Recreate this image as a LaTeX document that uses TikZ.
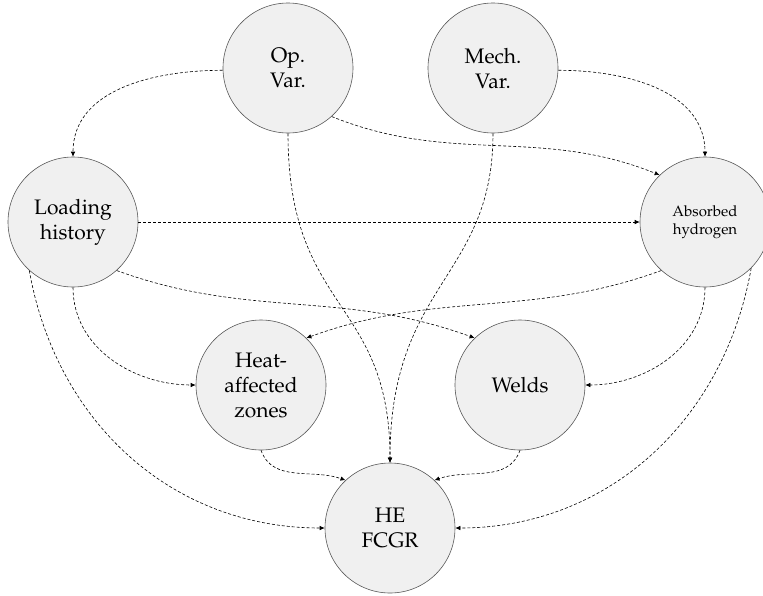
\documentclass[tikz,border=0pt]{standalone}
\usepackage[T1]{fontenc}
\renewcommand{\rmdefault}{ppl}
\usetikzlibrary{arrows.meta}
\begin{document}
\begin{tikzpicture}[x=1pt,y=1pt,
  factor/.style={circle,draw=black!65,line width=0.6pt,fill=black!6,
    minimum size=130pt,inner sep=0pt,align=center,text=black,
    font=\fontsize{21}{25}\selectfont},
  smalltext/.style={font=\fontsize{15}{18}\selectfont},
  link/.style={draw=black,line width=0.6pt,dash pattern=on 3pt off 2pt,
    -{Latex[length=5pt,width=4.5pt]}},
]
\useasboundingbox (0,0) rectangle (763,-595);

% factors
\node[factor] (op)   at (288,-68)  {Op.\\Var.};
\node[factor] (mech) at (493,-68)  {Mech.\\Var.};
\node[factor] (load) at (73,-222)  {Loading\\history};
\node[factor,smalltext] (abs) at (705,-222) {Absorbed\\hydrogen};
\node[factor] (haz)  at (261,-385) {Heat-\\affected\\zones};
\node[factor] (weld) at (520,-385) {Welds};
\node[factor] (he)   at (390,-528) {HE\\FCGR};

% influences
\draw[link] (op.182) to[out=180,in=90] (load.north);
\draw[link] (mech.-2) to[out=0,in=90] (abs.north);
\draw[link] (op.-48) to[out=-22,in=158] (abs.134);
\draw[link] (op.south) .. controls +(0,-180) and +(0,165) .. (he.north);
\draw[link] (mech.south) .. controls +(0,-145) and +(0,180) .. (he.north);
\draw[link] (load.east) -- (abs.west);
\draw[link] (load.-48) to[out=-20,in=160] (weld.134);
\draw[link] (abs.-132) to[out=200,in=20] (haz.46);
\draw[link] (load.south) to[out=-90,in=180] (haz.west);
\draw[link] (load.-132) to[out=-80,in=180] (he.west);
\draw[link] (abs.south) to[out=-90,in=0] (weld.east);
\draw[link] (abs.-45) to[out=-100,in=0] (he.east);
\draw[link] (haz.south) to[out=-70,in=160] (he.133);
\draw[link] (weld.south) to[out=-110,in=20] (he.47);
\end{tikzpicture}
\end{document}
